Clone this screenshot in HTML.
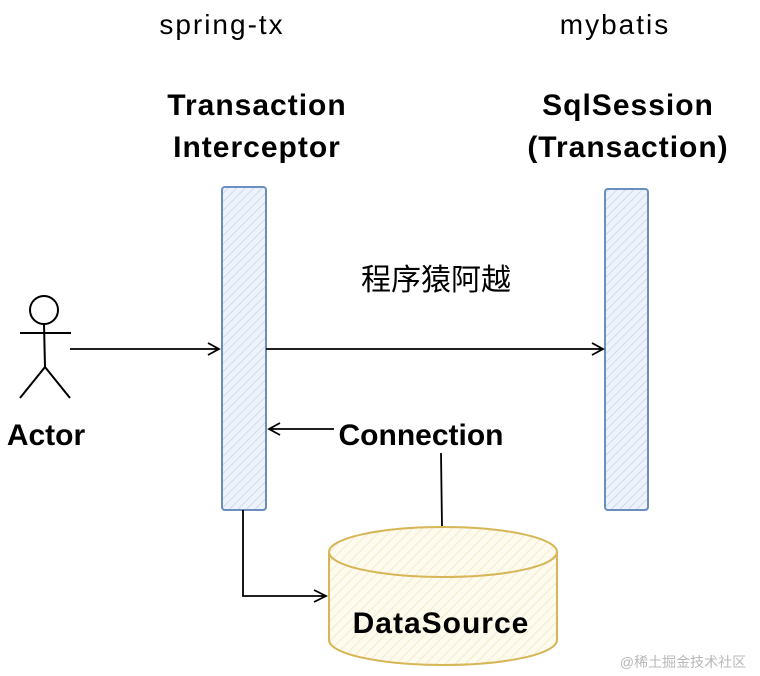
<!DOCTYPE html>
<html><head><meta charset="utf-8"><style>
html,body{margin:0;padding:0;background:#fff;}
svg{display:block;}
text{font-family:"Liberation Sans","Noto Sans CJK SC",sans-serif;fill:#000;}
.b{font-weight:bold;}
</style></head><body>
<svg width="760" height="676" viewBox="0 0 760 676" xmlns="http://www.w3.org/2000/svg">
<defs>
<pattern id="hb" width="6" height="6" patternUnits="userSpaceOnUse" patternTransform="rotate(45)">
<rect width="6" height="6" fill="#eef3fb"/><line x1="0" y1="0" x2="0" y2="6" stroke="#c5d3ec" stroke-width="1.5"/></pattern>
<pattern id="hy" width="7" height="7" patternUnits="userSpaceOnUse" patternTransform="rotate(45)">
<rect width="7" height="7" fill="#fdfaee"/><line x1="0" y1="0" x2="0" y2="7" stroke="#f1e7c2" stroke-width="1.5"/></pattern>
</defs>
<text x="222" y="34" font-size="28" letter-spacing="2" text-anchor="middle">spring-tx</text>
<text x="615" y="34" font-size="28" letter-spacing="2" text-anchor="middle">mybatis</text>
<text class="b" x="257" y="115" font-size="30" letter-spacing="1" text-anchor="middle">Transaction</text>
<text class="b" x="257" y="157" font-size="30" letter-spacing="1" text-anchor="middle">Interceptor</text>
<text class="b" x="628" y="115" font-size="30" letter-spacing="1" text-anchor="middle">SqlSession</text>
<text class="b" x="628" y="157" font-size="30" letter-spacing="1" text-anchor="middle">(Transaction)</text>
<rect x="222" y="187" width="44" height="323" rx="3" fill="url(#hb)" stroke="#6c8ebf" stroke-width="2"/>
<rect x="605" y="189" width="43" height="321" rx="3" fill="url(#hb)" stroke="#6c8ebf" stroke-width="2"/>
<text x="436" y="290" font-size="30" text-anchor="middle">程序猿阿越</text>
<g stroke="#000" stroke-width="2" fill="none">
<circle cx="44" cy="310" r="14"/>
<line x1="20" y1="333" x2="71" y2="333"/>
<line x1="44" y1="324" x2="45" y2="367"/>
<line x1="45" y1="367" x2="20" y2="398"/>
<line x1="45" y1="367" x2="70" y2="398"/>
</g>
<text class="b" x="46" y="445" font-size="30" text-anchor="middle">Actor</text>
<g stroke="#000" stroke-width="1.8" fill="none">
<path d="M70 349 L219 349 M208 343 L219 349 L208 355"/>
<path d="M266 349 L603 349 M592 343 L603 349 L592 355"/>
<path d="M334 429 L269 429 M280 423 L269 429 L280 435"/>
<line x1="441" y1="453" x2="442" y2="527"/>
<path d="M243 510 L243 596 L326 596 M314 590 L326 596 L314 602"/>
</g>
<text class="b" x="421" y="445" font-size="30" text-anchor="middle">Connection</text>
<path d="M329 552 L329 640 A114 25 0 0 0 557 640 L557 552" fill="url(#hy)" stroke="#d6b656" stroke-width="2"/>
<ellipse cx="443" cy="552" rx="114" ry="25" fill="url(#hy)" stroke="#d6b656" stroke-width="2"/>
<text class="b" x="441" y="633" font-size="30" letter-spacing="1" text-anchor="middle">DataSource</text>
<text x="683" y="667" font-size="14" style="fill:#b8b8b8" text-anchor="middle">@稀土掘金技术社区</text>
</svg>
</body></html>
